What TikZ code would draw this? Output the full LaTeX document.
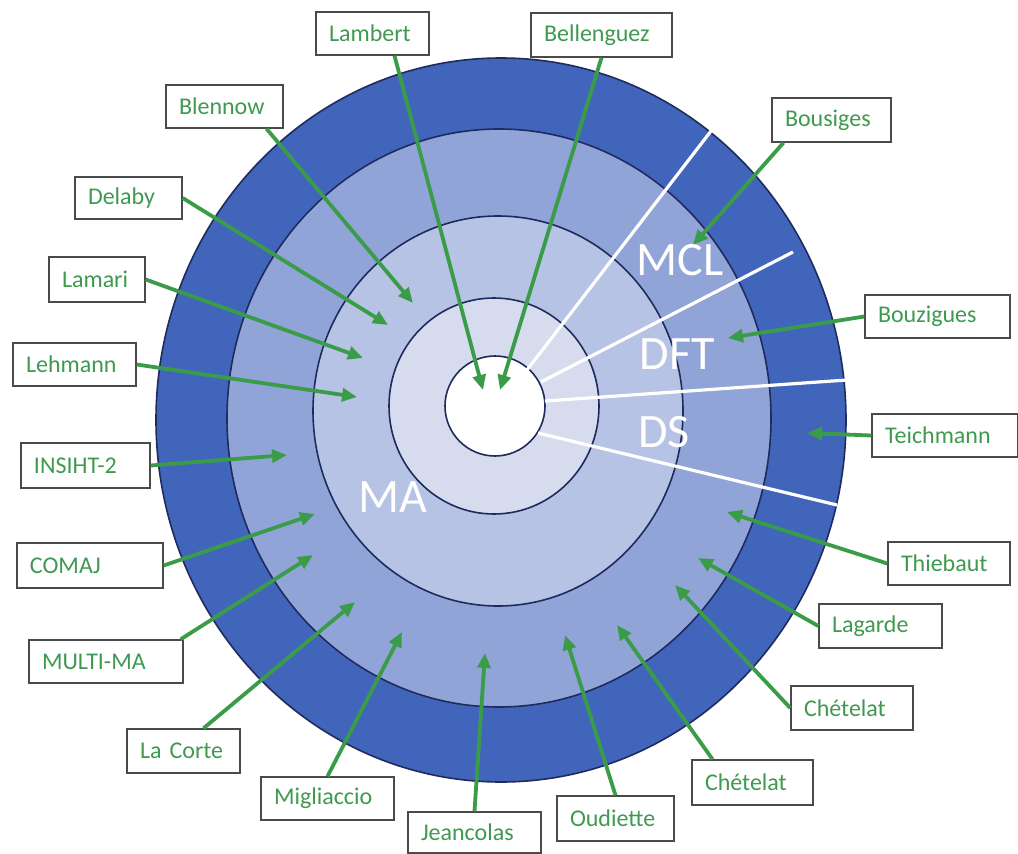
\documentclass[tikz,border=0pt]{standalone}
\usepackage{fontspec}
\setmainfont{Carlito}
\usetikzlibrary{arrows.meta}
\definecolor{ringdark}{HTML}{4265BC}
\definecolor{ringmid}{HTML}{91A4D7}
\definecolor{ringma}{HTML}{B7C3E4}
\definecolor{ringlight}{HTML}{D6DCEE}
\definecolor{navy}{HTML}{1E2B5C}
\definecolor{boxgray}{HTML}{4A4A4A}
\definecolor{lblgreen}{HTML}{3F9A50}
\definecolor{arrgreen}{HTML}{3A9C48}
\begin{document}
\begin{tikzpicture}[x=1pt,y=-1pt,
  lbl/.style={draw=boxgray, line width=1.4pt, fill=white, text=lblgreen,
    font=\fontsize{24}{28}\selectfont, inner xsep=13pt, inner ysep=0pt,
    align=left, minimum height=43pt},
  arr/.style={draw=arrgreen, line width=3.8pt, -{Triangle[length=15pt,width=13pt]}},
  ringline/.style={draw=navy, line width=1.6pt},
  sector/.style={draw=white, line width=3.2pt},
  ringtxt/.style={text=white, font=\fontsize{48}{48}\selectfont, inner sep=0pt}]
\useasboundingbox (0,0) rectangle (1018,854);
\fill[white] (0,0) rectangle (1018,854);

% rings
\filldraw[ringline, fill=ringdark] (501,420) ellipse [x radius=345pt, y radius=362pt];
\filldraw[ringline, fill=ringmid] (499,418) ellipse [x radius=272pt, y radius=289pt];
\filldraw[ringline, fill=ringma] (498,411) ellipse [x radius=185pt, y radius=195pt];
\filldraw[ringline, fill=ringlight] (494,406) ellipse [x radius=105pt, y radius=108pt];
\filldraw[ringline, fill=white] (495,406) circle [radius=50pt];

% sector lines
\draw[sector] (527,370) -- (711,131);
\draw[sector] (541,382) -- (793,252);
\draw[sector] (545,401) -- (847,380);
\draw[sector] (538,433) -- (837,505);

% ring labels
\node[ringtxt] (mcl) at (680,260) {MCL};
\node[ringtxt] (dft) at (677,354) {DFT};
\node[ringtxt] (ds) at (664,432) {DS};
\node[ringtxt] (ma) at (393,497) {MA};

% label boxes
\node[lbl, text width=87pt] (Lambert) at (372.5,33.5) {Lambert};
\node[lbl, text width=115pt, minimum height=44pt] (Bellenguez) at (601.5,35) {Bellenguez};
\node[lbl, text width=91pt] (Blennow) at (224.5,106.5) {Blennow};
\node[lbl, text width=81pt, minimum height=42pt] (Delaby) at (128.5,198) {Delaby};
\node[lbl, text width=70pt, minimum height=45pt] (Lamari) at (97,279.5) {Lamari};
\node[lbl, text width=97pt] (Lehmann) at (74.5,364.5) {Lehmann};
\node[lbl, text width=103pt, minimum height=45pt] (Insiht) at (85.5,465.5) {INSIHT-2};
\node[lbl, text width=120pt, minimum height=45pt] (Comaj) at (90,565.5) {COMAJ};
\node[lbl, text width=128pt] (Multima) at (106,661.5) {MULTI-MA};
\node[lbl, text width=87pt, minimum height=44pt] (Lacorte) at (183.5,751) {La Corte};
\node[lbl, text width=107pt] (Migliaccio) at (327.5,798.5) {Migliaccio};
\node[lbl, text width=107pt, minimum height=41pt] (Jeancolas) at (474.5,832.5) {Jeancolas};
\node[lbl, text width=91pt, minimum height=45pt] (Oudiette) at (615.5,818.5) {Oudiette};
\node[lbl, text width=95pt, minimum height=45pt] (ChetB) at (752.5,782.5) {Chételat};
\node[lbl, text width=96pt, minimum height=44pt] (ChetA) at (852,708) {Chételat};
\node[lbl, text width=97pt, minimum height=44pt] (Lagarde) at (880.5,626) {Lagarde};
\node[lbl, text width=96pt] (Thiebaut) at (949,563.5) {Thiebaut};
\node[lbl, text width=120pt] (Teichmann) at (945,435.5) {Teichmann};
\node[lbl, text width=119pt] (Bouzigues) at (937.5,316.5) {Bouzigues};
\node[lbl, text width=93pt, minimum height=44pt] (Bousiges) at (831.5,120) {Bousiges};

% arrow tips
\coordinate (tLambert) at (483,390);
\coordinate (tBellenguez) at (500,390);
\coordinate (tBlennow) at (413,303);
\coordinate (tDelaby) at (388,325);
\coordinate (tLamari) at (363,358);
\coordinate (tLehmann) at (357,397);
\coordinate (tInsiht) at (287,455);
\coordinate (tComaj) at (315,514);
\coordinate (tMultima) at (313,555);
\coordinate (tLacorte) at (355,602);
\coordinate (tMigliaccio) at (402,632);
\coordinate (tJeancolas) at (485,653);
\coordinate (tOudiette) at (565,635);
\coordinate (tChetB) at (617,625);
\coordinate (tChetA) at (675,585);
\coordinate (tLagarde) at (698,558);
\coordinate (tThiebaut) at (727,512);
\coordinate (tTeichmann) at (807,433);
\coordinate (tBouzigues) at (728,338);
\coordinate (tBousiges) at (693,245);

% arrows
\draw[arr] ([xshift=22pt]Lambert.south) -- (tLambert);
\draw[arr] (Bellenguez.south) -- (tBellenguez);
\draw[arr] ([xshift=42pt]Blennow.south) -- (tBlennow);
\draw[arr] (Delaby.east) -- (tDelaby);
\draw[arr] (Lamari.east) -- (tLamari);
\draw[arr] (Lehmann.east) -- (tLehmann);
\draw[arr] (Insiht.east) -- (tInsiht);
\draw[arr] (Comaj.east) -- (tComaj);
\draw[arr] ([xshift=-3pt]Multima.north east) -- (tMultima);
\draw[arr] ([xshift=20pt]Lacorte.north) -- (tLacorte);
\draw[arr] (Migliaccio.north) -- (tMigliaccio);
\draw[arr] (Jeancolas.north) -- (tJeancolas);
\draw[arr] (Oudiette.north) -- (tOudiette);
\draw[arr] ([xshift=-40pt]ChetB.north) -- (tChetB);
\draw[arr] (ChetA.west) -- (tChetA);
\draw[arr] (Lagarde.west) -- (tLagarde);
\draw[arr] (Thiebaut.west) -- (tThiebaut);
\draw[arr] (Teichmann.west) -- (tTeichmann);
\draw[arr] (Bouzigues.west) -- (tBouzigues);
\draw[arr] ([xshift=-48pt]Bousiges.south) -- (tBousiges);
\end{tikzpicture}
\end{document}
